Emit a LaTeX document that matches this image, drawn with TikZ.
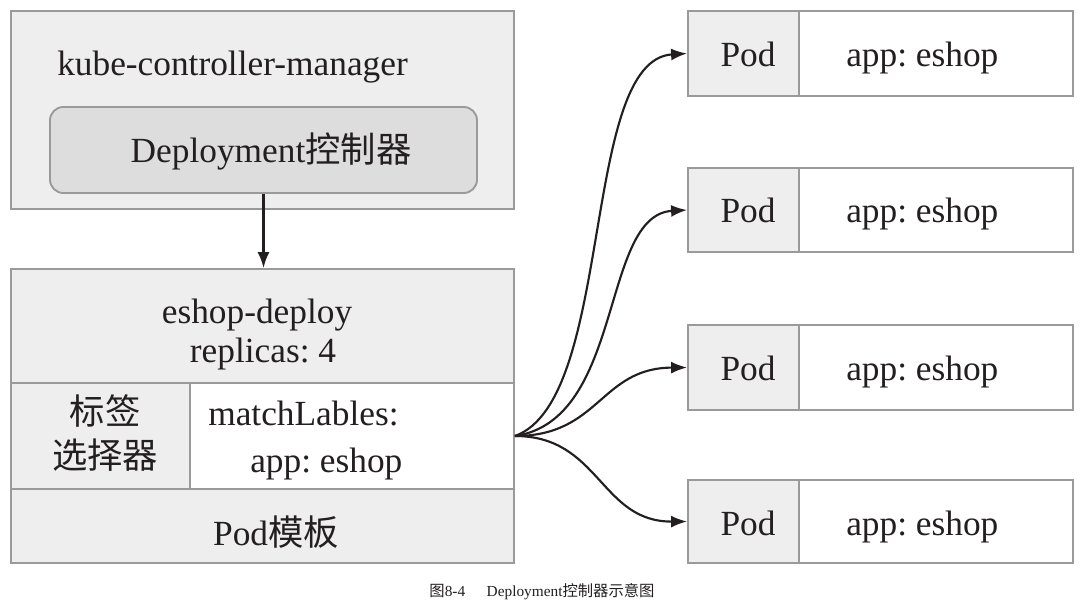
\documentclass[tikz,border=0pt]{standalone}
\usepackage{fontspec}
\setmainfont{Liberation Serif}
\newfontfamily\cjk{Noto Sans CJK SC}
\usetikzlibrary{fit,arrows.meta}
\definecolor{boxline}{HTML}{9A9A9A}
\definecolor{boxfill}{HTML}{EEEEEE}
\definecolor{ctrlfill}{HTML}{DDDDDD}
\definecolor{ink}{HTML}{231F20}
\frenchspacing
\begin{document}
\begin{tikzpicture}[x=0.75pt,y=-0.75pt,
  box/.style={draw=boxline, line width=1.4pt, fill=boxfill, inner sep=0pt},
  wbox/.style={box, fill=white},
  txt/.style={font=\fontsize{26.5}{30}\selectfont, inner sep=0pt, text=ink},
  arr/.style={draw=ink, line width=1.6pt, -{Latex[length=12pt,width=9pt]}},
  capt/.style={font=\fontsize{11.5}{13}\selectfont, inner sep=0pt, text=ink}]
\useasboundingbox (0,0) rectangle (1081,606);

% controller manager
\node[box, fit={(11,11)(514,209)}] (kcm) {};
\node[box, fill=ctrlfill, rounded corners=10pt, fit={(50,107)(477,193)}] (ctrl) {};
\node[txt, anchor=base west] (kcmlabel) at (57,76) {kube-controller-manager};
\node[txt, anchor=base] (ctrllabel) at (271,162) {Deployment{\cjk 控制器}};

% deployment object
\node[box, fit={(11,269)(514,383)}] (head) {};
\node[box, fit={(11,383)(190,489)}] (sel) {};
\node[wbox, fit={(190,383)(514,489)}] (match) {};
\node[box, fit={(11,489)(514,563)}] (tmpl) {};
\node[txt, anchor=base] (name) at (257,323) {eshop-deploy};
\node[txt, anchor=base] (rep) at (263,362) {replicas: 4};
\node[txt, anchor=base] (sel1) at (105,424) {\cjk 标签};
\node[txt, anchor=base] (sel2) at (105,468) {\cjk 选择器};
\node[txt, anchor=base west] (ml1) at (208,425) {matchLables:};
\node[txt, anchor=base west] (ml2) at (250,472) {app: eshop};
\node[txt, anchor=base] (tmpllabel) at (276,545) {Pod{\cjk 模板}};

\draw[arr] (ctrl.south) -- (ctrl.south |- head.north);

% pods
\foreach \i/\ya/\yb/\yt in {1/11/96/67, 2/168/252/222, 3/325/410/380, 4/480/563/535}{
  \node[box, fit={(688,\ya)(799,\yb)}] (podk\i) {};
  \node[wbox, fit={(799,\ya)(1073,\yb)}] (podv\i) {};
  \node[txt, anchor=base] (podt\i) at (748,\yt) {Pod};
  \node[txt, anchor=base west] (appt\i) at (846,\yt) {app: eshop};
}

\draw[arr] (match.east) .. controls (615,400) and (580,60) .. (podk1.west);
\draw[arr] (match.east) .. controls (625,420) and (600,215) .. (podk2.west);
\draw[arr] (match.east) .. controls (600,436) and (600,368) .. (podk3.west);
\draw[arr] (match.east) .. controls (600,436) and (600,522) .. (podk4.west);

\node[capt, anchor=base] (caption) at (542,596) {{\cjk 图}8-4\hspace{1.4em}Deployment{\cjk 控制器示意图}};
\end{tikzpicture}
\end{document}
